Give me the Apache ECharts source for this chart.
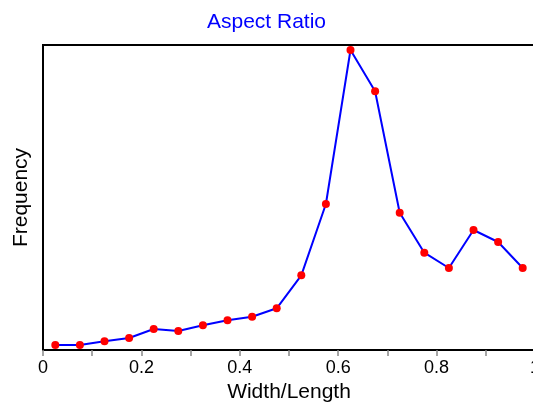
<!DOCTYPE html>
<html>
<head>
<meta charset="utf-8">
<script src="https://cdn.jsdelivr.net/npm/echarts@6/dist/echarts.min.js"></script>
<style>html,body{margin:0;padding:0;background:#fff;}#c{width:533px;height:405px;}</style>
</head>
<body>
<div id="c"></div>
<script>
var widthLength = [0.025,0.075,0.125,0.175,0.225,0.275,0.325,0.375,0.425,0.475,0.525,0.575,0.625,0.675,0.725,0.775,0.825,0.875,0.925,0.975];
var frequency = [5,5,8.7,12,21,19,24.7,29.7,33.3,41.7,74.7,146,300,258.7,137.3,97.3,82,120,108,82];
var xTickLabels = ['0','0.2','0.4','0.6','0.8','1'];

var chart = echarts.init(document.getElementById('c'), null, {renderer:'canvas'});
var points = widthLength.map(function(x,i){return [x, frequency[i]];});
chart.setOption({
  animation:false,
  textStyle:{fontFamily:'Liberation Sans, Arial, sans-serif'},
  title:{text:'Aspect Ratio', left:'center', top:7, textStyle:{color:'#0000FF', fontSize:21, fontWeight:'normal', fontFamily:'Liberation Sans, Arial, sans-serif'}},
  grid:{left:43, right:-2, top:45, bottom:55, containLabel:false, outerBoundsMode:'none', show:true, borderColor:'#000', borderWidth:2, backgroundColor:'transparent'},
  xAxis:{type:'value', min:0, max:1, interval:0.1,
    name:'Width/Length', nameLocation:'middle', nameGap:29,
    nameTextStyle:{fontSize:21, color:'#000', fontFamily:'Liberation Sans, Arial, sans-serif'},
    axisLine:{show:true, lineStyle:{color:'#000', width:2}},
    axisTick:{show:true, length:6, lineStyle:{color:'#888', width:1.5}},
    axisLabel:{fontSize:18, color:'#000', margin:9, showMaxLabel:true,
      formatter:function(v){var k=Math.round(v*10); return k%2===0 ? xTickLabels[k/2] : '';}},
    splitLine:{show:false}},
  yAxis:{type:'value', min:0, max:305,
    name:'Frequency', nameLocation:'middle', nameGap:11,
    nameTextStyle:{fontSize:21, color:'#000', fontFamily:'Liberation Sans, Arial, sans-serif'},
    axisLine:{show:true, lineStyle:{color:'#000', width:2}},
    axisTick:{show:false}, axisLabel:{show:false}, splitLine:{show:false}},
  series:[{type:'line', data:points, symbol:'circle', symbolSize:8,
    lineStyle:{color:'#0000FF', width:2},
    itemStyle:{color:'#FF0000'}}]
});
</script>
</body>
</html>
